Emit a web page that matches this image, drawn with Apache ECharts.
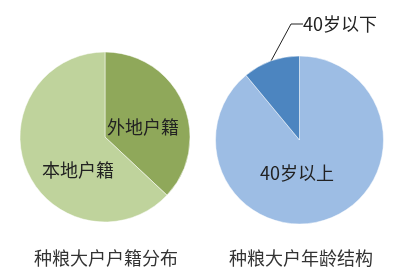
<!DOCTYPE html>
<html>
<head>
<meta charset="utf-8">
<script src="https://cdn.jsdelivr.net/npm/echarts@6/dist/echarts.min.js"></script>
<style>html,body{margin:0;padding:0;background:#fff;}#c{width:403px;height:275px;}</style>
</head>
<body>
<div id="c"></div>
<script>
// Left pie: household registration of large grain growers
const huJiCategories = ['外地户籍', '本地户籍'];
const huJiValues = [37, 63];
// Right pie: age structure
const ageCategories = ['40岁以上', '40岁以下'];
const ageValues = [89, 11];
const titles = ['种粮大户户籍分布', '种粮大户年龄结构'];

const FONT = '"Noto Sans CJK SC", "Noto Sans", sans-serif';
const chart = echarts.init(document.getElementById('c'), null, {renderer: 'canvas'});

function build(cats, vals) {
  return cats.map((c, i) => ({name: c, value: vals[i]}));
}

const leftLabelPos = [[143, 127], [78, 170]];
const rightLabelPos = [[297, 173], [303, 24]];

const option = {
  animation: false,
  backgroundColor: '#ffffff',
  graphic: [
    {type: 'text', style: {text: titles[0], x: 106, y: 258, textAlign: 'center', textVerticalAlign: 'middle', font: '18px ' + FONT, fill: '#333'}},
    {type: 'text', style: {text: titles[1], x: 301, y: 258, textAlign: 'center', textVerticalAlign: 'middle', font: '18px ' + FONT, fill: '#333'}}
  ],
  series: [
    {
      type: 'pie',
      center: [105, 137],
      radius: [0, 85],
      startAngle: 90,
      clockwise: true,
      data: build(huJiCategories, huJiValues),
      color: ['#8fa85a', '#bfd39c'],
      itemStyle: {borderColor: 'rgba(255,255,255,0.5)', borderWidth: 1},
      label: {show: true, position: 'inside', formatter: '{b}', fontSize: 18, fontFamily: FONT, color: '#222'},
      labelLine: {show: false},
      labelLayout: function (p) {
        const pos = leftLabelPos[p.dataIndex];
        return {x: pos[0], y: pos[1], align: 'center', verticalAlign: 'middle'};
      }
    },
    {
      type: 'pie',
      center: [299.5, 140],
      radius: [0, 84],
      startAngle: 90,
      clockwise: true,
      data: build(ageCategories, ageValues).map((d, i) => i === 1 ? Object.assign(d, {
        label: {position: 'outside'},
        labelLine: {show: true, length: 30, length2: 12, lineStyle: {color: '#222', width: 1}}
      }) : d),
      color: ['#9dbde4', '#4c85c0'],
      itemStyle: {borderColor: 'rgba(255,255,255,0.5)', borderWidth: 1},
      label: {show: true, position: 'inside', formatter: '{b}', fontSize: 18, fontFamily: FONT, color: '#222'},
      labelLine: {show: false},
      labelLayout: function (p) {
        const pos = rightLabelPos[p.dataIndex];
        if (p.dataIndex === 1) {
          return {x: pos[0], y: pos[1], align: 'left', verticalAlign: 'middle'};
        }
        return {x: pos[0], y: pos[1], align: 'center', verticalAlign: 'middle'};
      }
    }
  ]
};
chart.setOption(option);
</script>
</body>
</html>
